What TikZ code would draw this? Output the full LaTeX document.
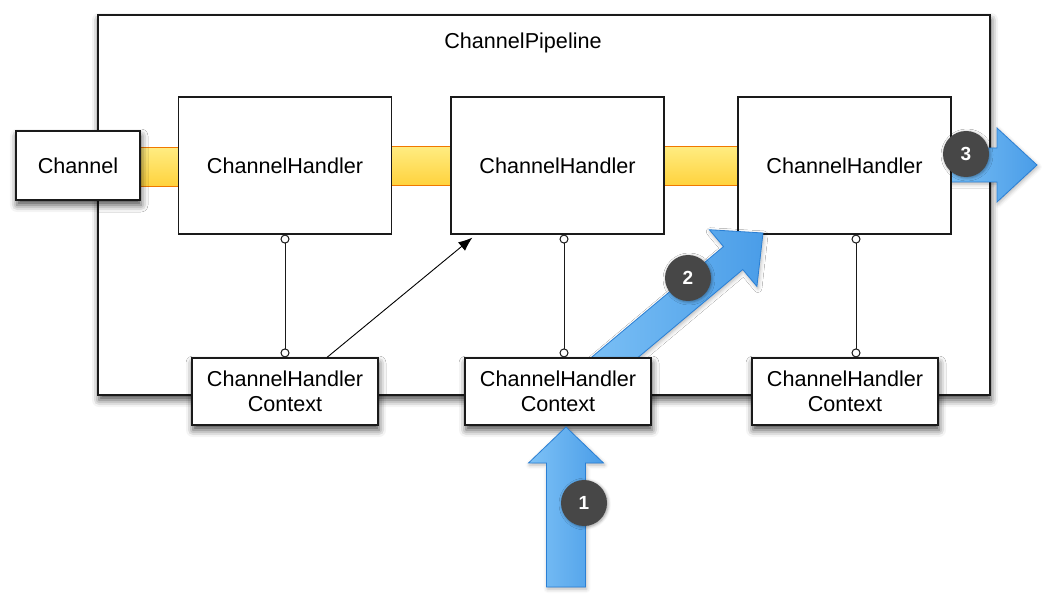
\documentclass[tikz,border=0pt]{standalone}
\usepackage{fontspec}
\setmainfont{Liberation Sans}
\usetikzlibrary{shadows.blur,arrows.meta,calc}
\definecolor{boxline}{HTML}{1A1A1A}
\definecolor{barfillA}{HTML}{FFEC80}
\definecolor{barfillB}{HTML}{FFD23C}
\definecolor{barline}{HTML}{F07800}
\definecolor{blueA}{HTML}{7EC2F6}
\definecolor{blueB}{HTML}{4A9DE8}
\definecolor{blueline}{HTML}{2A7FD4}
\definecolor{badgefill}{HTML}{474747}
\tikzset{
  lbl/.style={font=\fontsize{21.6}{25}\selectfont, text=black},
  softshadow/.style={blur shadow={shadow xshift=1pt, shadow yshift=-5pt, shadow blur radius=7pt, shadow opacity=70}},
  pipebox/.style={draw=boxline, line width=1.3pt, fill=white, minimum width=892pt, minimum height=380pt, inner sep=0pt, softshadow},
  handler/.style={draw=boxline, line width=1.2pt, fill=white, minimum width=213pt, minimum height=137pt, inner sep=0pt, lbl},
  ctxbox/.style={draw=boxline, line width=1.2pt, fill=white, minimum width=186pt, minimum height=67pt, inner sep=0pt, align=center, lbl, softshadow},
  chanbox/.style={draw=boxline, line width=1.2pt, fill=white, minimum width=124pt, minimum height=69pt, inner sep=0pt, lbl, softshadow},
  bar/.style={top color=barfillA, bottom color=barfillB, draw=barline, line width=1pt},
  bluearrow/.style={left color=blueA, right color=blueB, draw=blueline, line width=0.8pt,
     blur shadow={shadow xshift=1pt, shadow yshift=-2pt, shadow blur radius=4pt, shadow opacity=30}},
  badge/.style={circle, fill=badgefill, text=white, font=\bfseries\fontsize{19}{19}\selectfont, minimum size=46pt, inner sep=0pt,
     blur shadow={shadow xshift=1pt, shadow yshift=-1pt, shadow blur radius=3pt, shadow opacity=40}},
  conn/.style={{Circle[open,length=9pt,width=9pt]}-{Circle[open,length=9pt,width=9pt]}, draw=boxline, line width=1pt},
  ptr/.style={-{Latex[length=14pt,width=11pt]}, draw=black, line width=0.9pt},
}
\begin{document}
\begin{tikzpicture}[x=1pt,y=-1pt]
\useasboundingbox (0,0) rectangle (1061,596);
% pipeline
\node[pipebox] (pipe) at (544,205) {};
\node[lbl] (title) at (523,43) {ChannelPipeline};
% positions of boxes
\path (78,165.5) coordinate (chc) (285,165.5) coordinate (h1c) (557.5,165.5) coordinate (h2c) (844.5,165.5) coordinate (h3c);
% yellow bars
\path[bar] (139,148) rectangle (180,187);
\path[bar] (390,147) rectangle (453,186);
\path[bar] (662,147) rectangle (740,186);
% arrow 3 (behind handler 3)
\begin{scope}[shift={(1037,165)}]
  \path[bluearrow] (0,0) -- (-40,37) -- (-40,17) -- (-100,17) -- (-100,-17) -- (-40,-17) -- (-40,-37) -- cycle;
\end{scope}
% handlers
\node[handler] (H1) at (h1c) {ChannelHandler};
\node[handler] (H2) at (h2c) {ChannelHandler};
\node[handler] (H3) at (h3c) {ChannelHandler};
% channel
\node[chanbox] (ch) at (chc) {Channel};
% arrow 2
\begin{scope}[shift={(763,233)}, rotate=40]
  \path[bluearrow] (0,0) -- (-39,37) -- (-39,15) -- (-230,15) -- (-230,-15) -- (-39,-15) -- (-39,-37) -- cycle;
\end{scope}
% contexts
\node[ctxbox] (C1) at (285,391.5) {ChannelHandler\\Context};
\node[ctxbox] (C2) at (558,391.5) {ChannelHandler\\Context};
\node[ctxbox] (C3) at (845,391.5) {ChannelHandler\\Context};
% connectors
\draw[conn] (H1.south) -- (C1.north);
\draw[conn] (H2.south -| 564,0) -- (C2.north -| 564,0);
\draw[conn] (H3.south -| 856,0) -- (C3.north -| 856,0);
\draw[ptr] (C1.north -| 327,0) -- ($(H2.south west)+(22,3)$);
% arrow 1
\begin{scope}[shift={(566,427)}, rotate=90]
  \path[bluearrow] (0,0) -- (-36,37.5) -- (-36,19.5) -- (-160,19.5) -- (-160,-19.5) -- (-36,-19.5) -- (-36,-37.5) -- cycle;
\end{scope}
% badges
\node[badge] (b1) at (584,503) {1};
\node[badge] (b2) at (688,278) {2};
\node[badge] (b3) at (966,154) {3};
\end{tikzpicture}
\end{document}
